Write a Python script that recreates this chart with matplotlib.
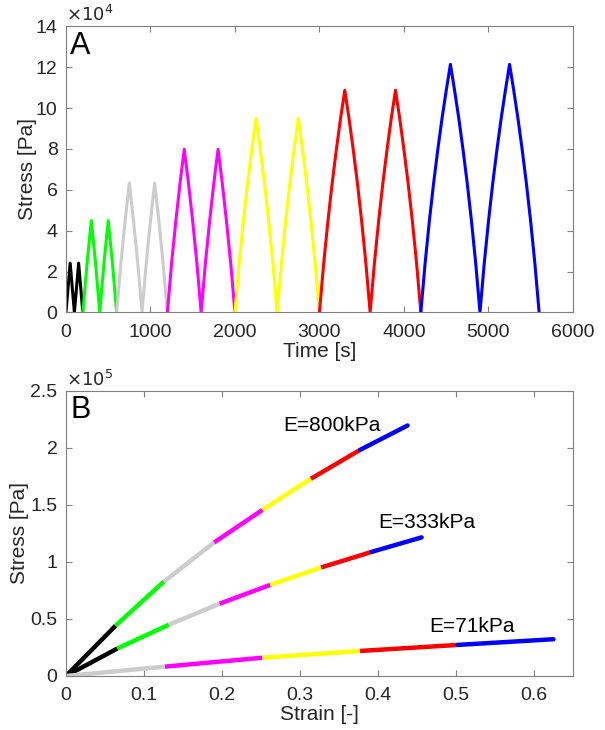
import matplotlib
matplotlib.use('Agg')
import matplotlib.pyplot as plt
from matplotlib.ticker import FuncFormatter

plt.rcParams['font.family'] = ['Liberation Sans', 'DejaVu Sans']

# colour of each load level (smallest to largest)
level_colors = ['black', '#00ff00', '#cccccc', '#ff00ff', '#ffff00', '#ff0000', '#0000ff']

# panel A: cycle start time and ramp duration of each level [s]
level_start = [0, 200, 600, 1200, 2000, 3000, 4200]
ramp_time = [50, 100, 150, 200, 250, 300, 350]

# panel B: loading curves, points at the end of each load level
strain_800 = [0, 0.0637, 0.1256, 0.190, 0.252, 0.314, 0.377, 0.438]
stress_800 = [0, 44.1e3, 82.7e3, 116.9e3, 145.5e3, 172.7e3, 198.0e3, 219.4e3]

strain_333 = [0, 0.066, 0.132, 0.197, 0.262, 0.327, 0.392, 0.456]
stress_333 = [0, 24.1e3, 44.9e3, 63.3e3, 79.8e3, 95.0e3, 108.7e3, 121.4e3]

strain_71 = [0, 0.127, 0.252, 0.377, 0.502, 0.625]
stress_71 = [0, 8.2e3, 16.0e3, 21.9e3, 27.2e3, 32.2e3]
colors_71 = level_colors[2:]

spine_col = '#808080'
text_col = '#262626'


def style_axes(ax):
    for s in ax.spines.values():
        s.set_color(spine_col)
        s.set_linewidth(0.8)
    ax.tick_params(direction='in', top=True, right=True, length=4,
                   color=spine_col, labelcolor=text_col, labelsize=14)
    ax.tick_params(axis='x', pad=8)
    ax.tick_params(axis='y', pad=6)


fig = plt.figure(figsize=(6.05, 7.3), dpi=100)
ax1 = fig.add_axes([0.109, 0.572, 0.838, 0.392])
ax2 = fig.add_axes([0.109, 0.074, 0.838, 0.391])

# --- A: stress vs time, two cycles per level ---
for k in range(1, len(strain_333)):
    t0 = level_start[k - 1]
    tr = ramp_time[k - 1]
    eps = strain_333[:k + 1]
    sig = stress_333[:k + 1]
    t, s = [], []
    for c in range(2):
        start = t0 + c * 2 * tr
        up = [start + tr * e / eps[-1] for e in eps]
        down = [start + 2 * tr - tr * e / eps[-1] for e in eps[::-1]]
        t += up + down[1:]
        s += sig + sig[::-1][1:]
    ax1.plot(t, s, color=level_colors[k - 1], lw=2.2, solid_capstyle='butt')

ax1.set_xlim(0, 6000)
ax1.set_ylim(0, 14e4)
ax1.set_xticks(range(0, 6001, 1000))
ax1.set_yticks([i * 2e4 for i in range(8)])
ax1.yaxis.set_major_formatter(FuncFormatter(lambda v, p: f'{v / 1e4:g}'))
style_axes(ax1)
ax1.set_xlabel('Time [s]', fontsize=15, color=text_col, labelpad=1)
ax1.set_ylabel('Stress [Pa]', fontsize=15, color=text_col, labelpad=-1)
ax1.text(0.0, 1.003, r'$\times10^{4}$', transform=ax1.transAxes, fontsize=13,
         color=text_col, va='bottom', ha='left')
ax1.text(0.008, 0.985, 'A', transform=ax1.transAxes, fontsize=22, va='top', ha='left')

# --- B: stress vs strain ---
for eps, sig, cols in [(strain_800, stress_800, level_colors),
                       (strain_333, stress_333, level_colors),
                       (strain_71, stress_71, colors_71)]:
    for i in range(len(eps) - 1):
        ax2.plot(eps[i:i + 2], sig[i:i + 2], color=cols[i], lw=3.2,
                 solid_capstyle='round' if i == len(eps) - 2 else 'butt')

ax2.text(0.278, 219e3, 'E=800kPa', fontsize=15, va='center', ha='left')
ax2.text(0.400, 134.7e3, 'E=333kPa', fontsize=15, va='center', ha='left')
ax2.text(0.466, 43.2e3, 'E=71kPa', fontsize=15, va='center', ha='left')

ax2.set_xlim(0, 0.65)
ax2.set_ylim(0, 2.5e5)
ax2.set_xticks([0, 0.1, 0.2, 0.3, 0.4, 0.5, 0.6])
ax2.xaxis.set_major_formatter(FuncFormatter(lambda v, p: f'{v:g}'))
ax2.set_yticks([i * 0.5e5 for i in range(6)])
ax2.yaxis.set_major_formatter(FuncFormatter(lambda v, p: f'{v / 1e5:g}'))
style_axes(ax2)
ax2.set_xlabel('Strain [-]', fontsize=15, color=text_col, labelpad=1)
ax2.set_ylabel('Stress [Pa]', fontsize=15, color=text_col, labelpad=1)
ax2.text(0.0, 1.003, r'$\times10^{5}$', transform=ax2.transAxes, fontsize=13,
         color=text_col, va='bottom', ha='left')
ax2.text(0.008, 0.985, 'B', transform=ax2.transAxes, fontsize=22, va='top', ha='left')

fig.savefig('out.png', dpi=100)
